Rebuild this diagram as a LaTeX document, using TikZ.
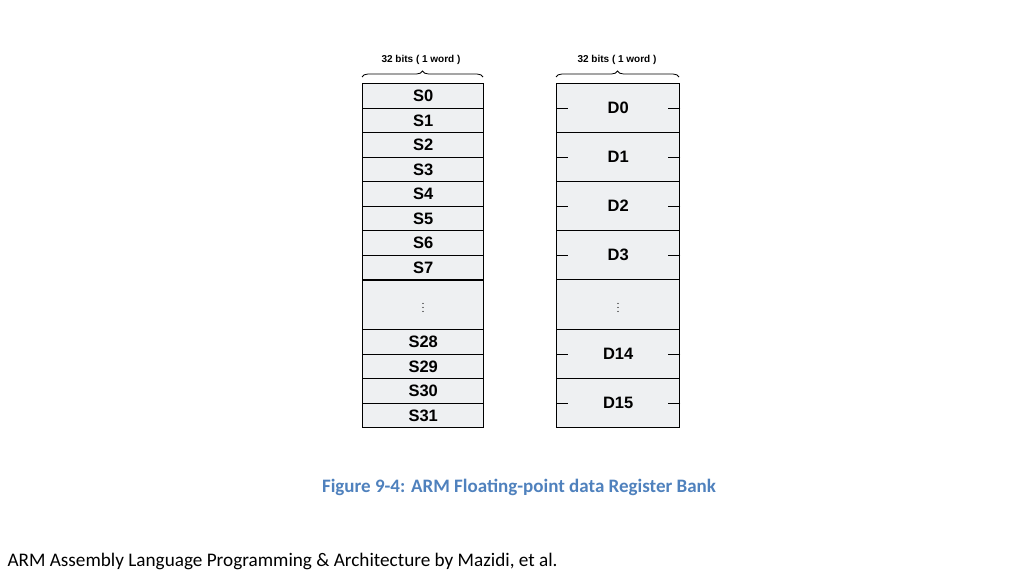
\documentclass[tikz,border=0pt]{standalone}
\usepackage{fontspec}
\setmainfont{Carlito}
\newfontfamily\arial{Liberation Sans}
\usetikzlibrary{decorations.pathreplacing}
\definecolor{cellfill}{HTML}{EEF0F2}
\definecolor{capblue}{HTML}{4F81BD}
\begin{document}
\begin{tikzpicture}[x=1pt,y=-1pt,
  cell/.style={draw=black,line width=1.4pt,fill=cellfill,minimum width=121pt,inner sep=0pt,font=\arial\bfseries\fontsize{16.5}{18}\selectfont,anchor=north west},
  brc/.style={decorate,decoration={brace,amplitude=6pt,raise=0pt},line width=0.8pt},
  lbl/.style={font=\arial\bfseries\fontsize{10}{12}\selectfont},
  vd/.style={font=\fontsize{10}{12}\selectfont}]
\useasboundingbox (0,0) rectangle (1024,576);
% S column
\foreach \n/\t/\h [count=\i] in {s0/S0/0,s1/S1/24.5,s2/S2/49,s3/S3/73.5,s4/S4/98,s5/S5/122.5,s6/S6/147,s7/S7/171.5}
  \node[cell,minimum height=24.5pt] (\n) at (362,83+\h) {\t};
\node[cell,minimum height=49pt] (sdots) at (362,280) {};
\node[vd] (sd) at (sdots.center) {$\vdots$};
\foreach \n/\t/\h in {s28/S28/0,s29/S29/24.5,s30/S30/49,s31/S31/73.5}
  \node[cell,minimum height=24.5pt] (\n) at (362,329+\h) {\t};
% D column
\foreach \n/\t/\y in {d0/D0/83,d1/D1/132,d2/D2/181,d3/D3/230,d14/D14/329,d15/D15/378}{
  \node[cell,minimum width=123pt,minimum height=49pt] (\n) at (556,\y) {\t};
  \draw[line width=1pt] (\n.west) -- ++(12,0);
  \draw[line width=1pt] (\n.east) -- ++(-12,0);
}
\node[cell,minimum width=123pt,minimum height=50pt] (ddots) at (556,279) {};
\node[vd] (dd) at (ddots.center) {$\vdots$};
% braces
\coordinate (bl1) at (362,77); \coordinate (br1) at (483,77);
\coordinate (bl2) at (556,77); \coordinate (br2) at (679,77);
\draw[brc] (bl1) -- (br1);
\draw[brc] (bl2) -- (br2);
\node[lbl] (t1) at (421,60) {32 bits ( 1 word )};
\node[lbl] (t2) at (617,60) {32 bits ( 1 word )};
\node[font=\bfseries\fontsize{19}{22}\selectfont,text=capblue] (cap) at (519,487) {Figure 9-4: ARM Floating-point data Register Bank};
\node[font=\fontsize{19.2}{22}\selectfont,anchor=west] (foot) at (4,561) {ARM Assembly Language Programming \& Architecture by Mazidi, et al.};
\end{tikzpicture}
\end{document}
